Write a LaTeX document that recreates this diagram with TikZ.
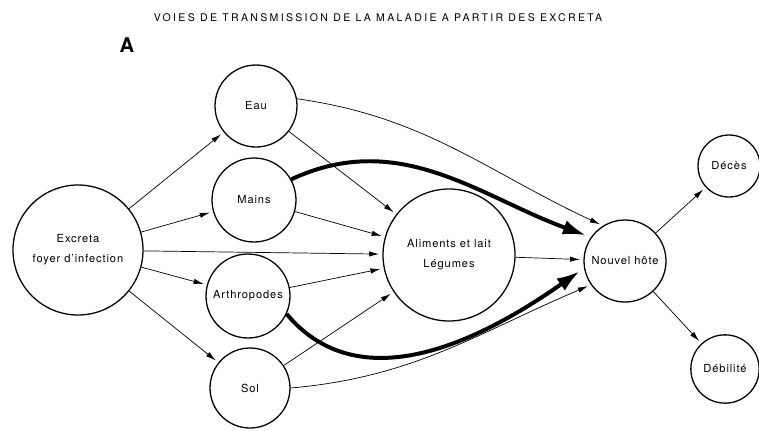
\documentclass[tikz,border=0pt]{standalone}
\usepackage{fontspec}
\setmainfont{TeX Gyre Heros}[LetterSpace=8]
\usetikzlibrary{arrows.meta}
\tikzset{
  place/.style={circle, draw=black, line width=1.1pt, inner sep=0.5pt, align=center, font=\fontsize{9.5}{17}\selectfont},
  arrow/.style={-{Latex[length=3mm, width=1.6mm]}, line width=0.6pt, shorten >=1mm},
  thickarrow/.style={-{Latex[length=7mm, width=4.4mm]}, line width=3.4pt, shorten >=1.5mm},
  titletext/.style={font=\fontsize{9}{11}\selectfont\addfontfeatures{LetterSpace=22}}
}

\begin{document}
\begin{tikzpicture}[x=0.3mm, y=-0.3mm]
  \useasboundingbox (0,0) rectangle (759,430);
  \node[titletext] (title) at (378,18) {VOIES DE TRANSMISSION DE LA MALADIE A PARTIR DES EXCRETA};
  \node[font=\LARGE\bfseries] (lettre) at (127,45) {A};
  \node[place, minimum size=39mm] (excreta) at (78,250) {Excreta\\foyer d'infection};
  \node[place, minimum size=24.6mm] (eau) at (256,106) {Eau};
  \node[place, minimum size=25.2mm] (mains) at (254,200) {Mains};
  \node[place, minimum size=25.2mm] (arthro) at (248,296) {Arthropodes};
  \node[place, minimum size=24mm] (sol) at (250,388) {Sol};
  \node[place, minimum size=39.6mm] (aliments) at (449,255) {Aliments et lait\\Légumes};
  \node[place, minimum size=24.6mm] (hote) at (625,261) {Nouvel hôte};
  \node[place, minimum size=18.6mm] (deces) at (729,166) {Décès};
  \node[place, minimum size=20.5mm] (debilite) at (725,369) {Débilité};
  \draw[arrow] (excreta) -- (eau);
  \draw[arrow] (excreta) -- (mains);
  \draw[arrow] (excreta) -- (aliments);
  \draw[arrow] (excreta) -- (arthro);
  \draw[arrow] (excreta) -- (sol);
  \draw[arrow] (eau) -- (aliments);
  \draw[arrow] (mains) -- (aliments);
  \draw[arrow] (arthro) -- (aliments);
  \draw[arrow] (sol) -- (aliments);
  \draw[arrow] (aliments) -- (hote);
  \draw[arrow] (hote) -- (deces);
  \draw[arrow] (hote) -- (debilite);
  \draw[arrow] (eau.10) to[out=-8, in=155] (hote.122);
  \draw[arrow] (sol.0) to[out=5, in=203] (hote.215);
  \draw[thickarrow] (mains.29) to[out=25, in=160] (hote.145);
  \draw[thickarrow] (arthro.335) to[out=-50, in=215] (hote.190);
\end{tikzpicture}
\end{document}
